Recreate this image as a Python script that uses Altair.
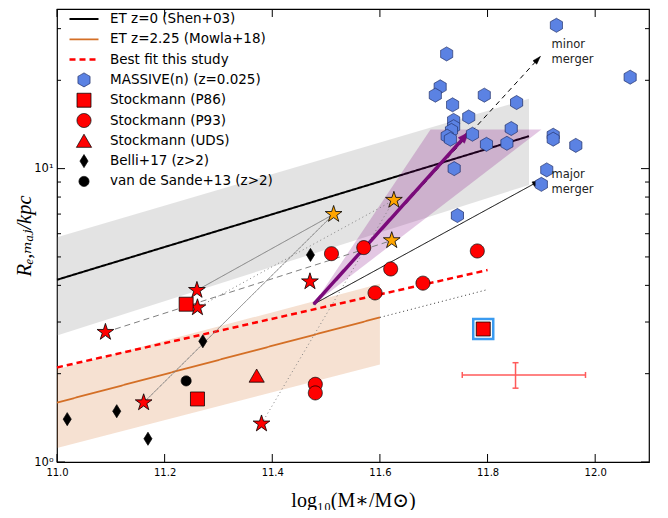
import altair as alt
import pandas as pd

# ---------------- data ----------------
series_names = ["ET z=0 (Shen+03)", "ET z=2.25 (Mowla+18)", "Best fit this study",
                "MASSIVE(n) (z=0.025)", "Stockmann (P86)", "Stockmann (P93)",
                "Stockmann (UDS)", "Belli+17 (z>2)", "van de Sande+13 (z>2)"]

shen_x = [11.0, 11.877]
shen_y = [4.18, 12.9]
shen_lo = [2.70, 8.8]
shen_hi = [5.84, 17.3]

mowla_x = [11.0, 11.6]
mowla_y = [1.594, 3.11]
mowla_lo = [1.117, 2.15]
mowla_hi = [2.07, 4.05]
mowla_ext_x = [11.6, 11.8]
mowla_ext_y = [3.11, 3.87]

fit_x = [11.0, 11.8]
fit_y = [2.10, 4.51]

massive_x = [11.928, 11.724, 11.712, 11.703, 11.794, 11.735, 11.854, 12.065, 11.765,
             11.737, 11.737, 11.733, 11.725, 11.731, 11.772, 11.844, 11.798, 11.836,
             11.922, 11.922, 11.964, 11.738, 11.910, 11.900, 11.744]
massive_y = [30.8, 24.6, 19.0, 17.8, 17.8, 16.5, 16.8, 20.5, 15.0,
             14.6, 13.9, 13.5, 12.9, 12.6, 13.1, 13.7, 12.1, 12.2,
             13.0, 12.6, 12.0, 10.0, 9.9, 8.84, 6.92]
p86_x = [11.240, 11.261, 11.792]
p86_y = [3.45, 1.64, 2.84]
p93_x = [11.510, 11.480, 11.480, 11.570, 11.620, 11.680, 11.591, 11.781]
p93_y = [5.13, 1.84, 1.72, 5.38, 4.55, 4.07, 3.77, 5.24]
uds_x = [11.371]
uds_y = [1.97]
belli_x = [11.019, 11.111, 11.169, 11.271, 11.471]
belli_y = [1.40, 1.49, 1.20, 2.58, 5.08]
vds_x = [11.240]
vds_y = [1.89]

red_star_x = [11.090, 11.260, 11.261, 11.161, 11.380, 11.470]
red_star_y = [2.77, 3.85, 3.36, 1.594, 1.35, 4.12]
orange_star_x = [11.514, 11.626, 11.622]
orange_star_y = [6.99, 7.81, 5.69]

link_x0 = [11.260, 11.161, 11.380, 11.261, 11.090]
link_y0 = [3.85, 1.594, 1.35, 3.36, 2.77]
link_x1 = [11.514, 11.514, 11.626, 11.626, 11.622]
link_y1 = [6.99, 6.99, 7.81, 7.81, 5.69]
link_style = ["solid", "solid", "dotted", "dotted", "dashed"]

arrow_x0 = 11.477
arrow_y0 = 3.45
minor_end = (11.898, 24.1)
major_end = (11.898, 9.12)
purple_end = (11.765, 13.3)

purple_band_y = [3.45, 13.6]
purple_band_xlo = [11.477, 11.694]
purple_band_xhi = [11.477, 11.90]

highlight_x = [11.792]
highlight_y = [2.84]

err_x, err_y = 11.852, 1.98
err_xlo, err_xhi = 11.753, 11.982
err_ylo, err_yhi = 1.785, 2.18

annot_x = [11.919, 11.919]
annot_y = [26.3, 9.5]
annot_text = ["minor\nmerger", "major\nmerger"]

x_tick_values = [11.0, 11.2, 11.4, 11.6, 11.8, 12.0]
y_tick_values = [1, 10]
y_tick_labels = ["10⁰", "10¹"]
y_minor_values = [2, 3, 4, 5, 6, 7, 8, 9, 20, 30]

# ---------------- styling ----------------
W, H = 592, 453
X_SCALE = alt.Scale(domain=[11.0, 12.1], nice=False, zero=False)
Y_SCALE = alt.Scale(type="log", domain=[1, 35], nice=False)
FONT = "DejaVu Sans"
SERIF = "Liberation Serif, DejaVu Serif, serif"

LINE = "M-1,0L1,0"
HEX = "M0,-1L0.866,-0.5L0.866,0.5L0,1L-0.866,0.5L-0.866,-0.5Z"
DIAMOND = "M0,-1L0.62,0L0,1L-0.62,0Z"
STAR = ("M0,-1L0.2245,-0.309L0.951,-0.309L0.3633,0.118L0.5878,0.809L0,0.382"
        "L-0.5878,0.809L-0.3633,0.118L-0.951,-0.309L-0.2245,-0.309Z")
ARROW_THIN = "M0,0L-0.32,1L0.32,1Z"
ARROW_WIDE = "M0,0L-0.38,1L0.38,1Z"

stroke_range = ["black", "#d46f26", "red", "#27366e", "black", "black", "black", "black", "black"]
fill_range = ["transparent", "transparent", "transparent", "#5b82e3", "red", "red", "red", "black", "black"]
dash_range = [[1, 0], [1, 0], [6, 4], [1, 0], [1, 0], [1, 0], [1, 0], [1, 0], [1, 0]]
sw_range = [2, 1.8, 2.5, 0.8, 0.8, 0.8, 0.8, 0.8, 0.8]
shape_range = [LINE, LINE, LINE, HEX, "square", "circle", "triangle-up", DIAMOND, "circle"]
size_range = [841, 841, 841, 196, 196, 196, 230, 169, 100]

LEG = alt.Legend(title=None, orient="none", legendX=11, legendY=2, clipHeight=16,
                 rowPadding=4.3, padding=0, labelFont=FONT, labelFontSize=13.5,
                 labelOffset=10, labelColor="black", labelLimit=400)

X_AXIS = alt.Axis(values=x_tick_values, format=".1f", title="log₁₀(M∗/M⊙)",
                  ticks=False, domain=False, grid=False, labelFlush=False,
                  labelFont=FONT, labelFontSize=10, labelPadding=5, labelColor="black",
                  titleFont=SERIF, titleFontSize=20, titleFontWeight="normal",
                  titleColor="black", titlePadding=13)
label_expr = f"datum.value == {y_tick_values[0]} ? '{y_tick_labels[0]}' : '{y_tick_labels[1]}'"
Y_AXIS = alt.Axis(values=y_tick_values, labelExpr=label_expr, title="Rₑ,ₘₐⱼ/kpc",
                  ticks=False, domain=False, grid=False, labelFont=FONT, labelFontSize=11.5,
                  labelPadding=4, labelColor="black", minExtent=18, maxExtent=18,
                  titleFont=SERIF, titleFontSize=20.5, titleFontStyle="italic",
                  titleFontWeight="normal", titleColor="black", titlePadding=5)


def xq(field):
    return alt.X(field, type="quantitative", scale=X_SCALE, axis=X_AXIS)


def yq(field):
    return alt.Y(field, type="quantitative", scale=Y_SCALE, axis=Y_AXIS)


def sc(rng):
    return alt.Scale(type="ordinal", domain=series_names, range=rng)


layers = []

# gray band (Shen)
gray_df = pd.DataFrame({"x": shen_x, "lo": shen_lo, "hi": shen_hi})
layers.append(alt.Chart(gray_df).mark_area(color="gray", opacity=0.22).encode(
    x=xq("x"), y=yq("lo"), y2="hi"))

# orange band (Mowla)
orange_df = pd.DataFrame({"x": mowla_x, "lo": mowla_lo, "hi": mowla_hi})
layers.append(alt.Chart(orange_df).mark_area(color="#d2691e", opacity=0.2).encode(
    x=xq("x"), y=yq("lo"), y2="hi"))

# legend-carrying lines
lines_df = pd.DataFrame({
    "series": [series_names[0]] * 2 + [series_names[1]] * 2 + [series_names[2]] * 2,
    "x": shen_x + mowla_x + fit_x,
    "y": shen_y + mowla_y + fit_y,
})
layers.append(alt.Chart(lines_df).mark_line().encode(
    x=xq("x"), y=yq("y"),
    stroke=alt.Stroke("series:N", scale=sc(stroke_range), legend=LEG),
    strokeDash=alt.StrokeDash("series:N", scale=sc(dash_range), legend=LEG),
    strokeWidth=alt.StrokeWidth("series:N", scale=sc(sw_range), legend=LEG),
))

# dotted extension of Mowla
ext_df = pd.DataFrame({"x": mowla_ext_x, "y": mowla_ext_y})
layers.append(alt.Chart(ext_df).mark_line(color="#333333", strokeDash=[1, 3], strokeWidth=1).encode(
    x=xq("x"), y=yq("y")))

# purple band
pband_df = pd.DataFrame({"y": purple_band_y, "xlo": purple_band_xlo, "xhi": purple_band_xhi})
layers.append(alt.Chart(pband_df).mark_area(orient="horizontal", color="purple", opacity=0.22).encode(
    y=yq("y"), x=xq("xlo"), x2="xhi"))

# star links
links_df = pd.DataFrame({"x0": link_x0, "y0": link_y0, "x1": link_x1, "y1": link_y1, "style": link_style})
for style, dash in [("solid", [1, 0]), ("dotted", [1, 3]), ("dashed", [6, 4])]:
    layers.append(alt.Chart(links_df).transform_filter(alt.datum.style == style)
                  .mark_rule(color="gray", strokeWidth=1, strokeDash=dash).encode(
        x=xq("x0"), y=yq("y0"), x2="x1", y2="y1"))

# merger arrows
for end, color, width, dash, angle, path, size in [
    (minor_end, "black", 1, [5, 4], 42.5, ARROW_THIN, 256),
    (major_end, "black", 1, [1, 0], 61.3, ARROW_THIN, 256),
    (purple_end, "#7a0a7a", 3.5, [1, 0], 42.0, ARROW_WIDE, 484),
]:
    adf = pd.DataFrame({"x0": [arrow_x0], "y0": [arrow_y0], "x1": [end[0]], "y1": [end[1]]})
    layers.append(alt.Chart(adf).mark_rule(color=color, strokeWidth=width, strokeDash=dash).encode(
        x=xq("x0"), y=yq("y0"), x2="x1", y2="y1"))
    layers.append(alt.Chart(adf).mark_point(shape=path, size=size, angle=angle, filled=True,
                                            fill=color, stroke=color, strokeWidth=0.5, opacity=1).encode(
        x=xq("x1"), y=yq("y1")))

# stars
rs_df = pd.DataFrame({"x": red_star_x, "y": red_star_y})
layers.append(alt.Chart(rs_df).mark_point(shape=STAR, size=310, filled=True, fill="red",
                                          stroke="black", strokeWidth=0.8, opacity=1).encode(
    x=xq("x"), y=yq("y")))
os_df = pd.DataFrame({"x": orange_star_x, "y": orange_star_y})
layers.append(alt.Chart(os_df).mark_point(shape=STAR, size=310, filled=True, fill="#ffa500",
                                          stroke="black", strokeWidth=0.8, opacity=1).encode(
    x=xq("x"), y=yq("y")))

# markers (legend-carrying)
pts = []
for name, xs, ys in [(series_names[3], massive_x, massive_y), (series_names[4], p86_x, p86_y),
                     (series_names[5], p93_x, p93_y), (series_names[6], uds_x, uds_y),
                     (series_names[7], belli_x, belli_y), (series_names[8], vds_x, vds_y)]:
    pts.append(pd.DataFrame({"series": name, "x": xs, "y": ys}))
pts_df = pd.concat(pts, ignore_index=True)
layers.append(alt.Chart(pts_df).mark_point(filled=True, opacity=1).encode(
    x=xq("x"), y=yq("y"),
    fill=alt.Fill("series:N", scale=sc(fill_range), legend=LEG),
    stroke=alt.Stroke("series:N", scale=sc(stroke_range), legend=LEG),
    shape=alt.Shape("series:N", scale=sc(shape_range), legend=LEG),
    size=alt.Size("series:N", scale=sc(size_range), legend=LEG),
    strokeDash=alt.StrokeDash("series:N", scale=sc(dash_range), legend=LEG),
    strokeWidth=alt.StrokeWidth("series:N", scale=sc(sw_range), legend=LEG),
))

# highlighted square
hl_df = pd.DataFrame({"x": highlight_x, "y": highlight_y})
layers.append(alt.Chart(hl_df).mark_point(shape="square", size=400, filled=False, stroke="#3a9bf0",
                                          strokeWidth=2.5, opacity=1).encode(x=xq("x"), y=yq("y")))

# error bar
eb_df = pd.DataFrame({"x": [err_x], "y": [err_y], "xlo": [err_xlo], "xhi": [err_xhi],
                      "ylo": [err_ylo], "yhi": [err_yhi]})
EBC = "#ff5a5a"
layers.append(alt.Chart(eb_df).mark_rule(color=EBC, strokeWidth=1.5).encode(
    x=xq("xlo"), x2="xhi", y=yq("y")))
layers.append(alt.Chart(eb_df).mark_rule(color=EBC, strokeWidth=1.5).encode(
    x=xq("x"), y=yq("ylo"), y2="yhi"))
for xf, yf, ang in [("xlo", "y", 90), ("xhi", "y", 90), ("x", "ylo", 0), ("x", "yhi", 0)]:
    layers.append(alt.Chart(eb_df).mark_point(shape="stroke", size=36, angle=ang, stroke=EBC,
                                              strokeWidth=1.5, opacity=1).encode(
        x=xq(xf), y=yq(yf)))

# annotations
ann_df = pd.DataFrame({"x": annot_x, "y": annot_y, "t": annot_text})
layers.append(alt.Chart(ann_df).mark_text(align="left", baseline="middle", font=FONT, fontSize=11.5,
                                          lineBreak="\n", lineHeight=15, color="#222222").encode(
    x=xq("x"), y=yq("y"), text="t:N"))

# inward ticks
ymaj = pd.DataFrame({"v": y_tick_values})
ymin = pd.DataFrame({"v": y_minor_values})
xmaj = pd.DataFrame({"v": x_tick_values})
for df, ln in [(ymaj, 8), (ymin, 4)]:
    layers.append(alt.Chart(df).mark_rule(color="black", strokeWidth=1).encode(
        y=yq("v"), x=alt.value(0), x2=alt.value(ln)))
    layers.append(alt.Chart(df).mark_rule(color="black", strokeWidth=1).encode(
        y=yq("v"), x=alt.value(W - ln), x2=alt.value(W)))
layers.append(alt.Chart(xmaj).mark_rule(color="black", strokeWidth=1).encode(
    x=xq("v"), y=alt.value(H - 8), y2=alt.value(H)))
layers.append(alt.Chart(xmaj).mark_rule(color="black", strokeWidth=1).encode(
    x=xq("v"), y=alt.value(0), y2=alt.value(8)))

chart = alt.layer(*layers).properties(
    width=W, height=H,
    padding={"left": 6, "top": 0, "right": 0, "bottom": 0},
    background="white",
).configure_view(stroke="black", strokeWidth=1.2)

chart.save("out.html", embed_options={"renderer": "svg", "actions": False})
